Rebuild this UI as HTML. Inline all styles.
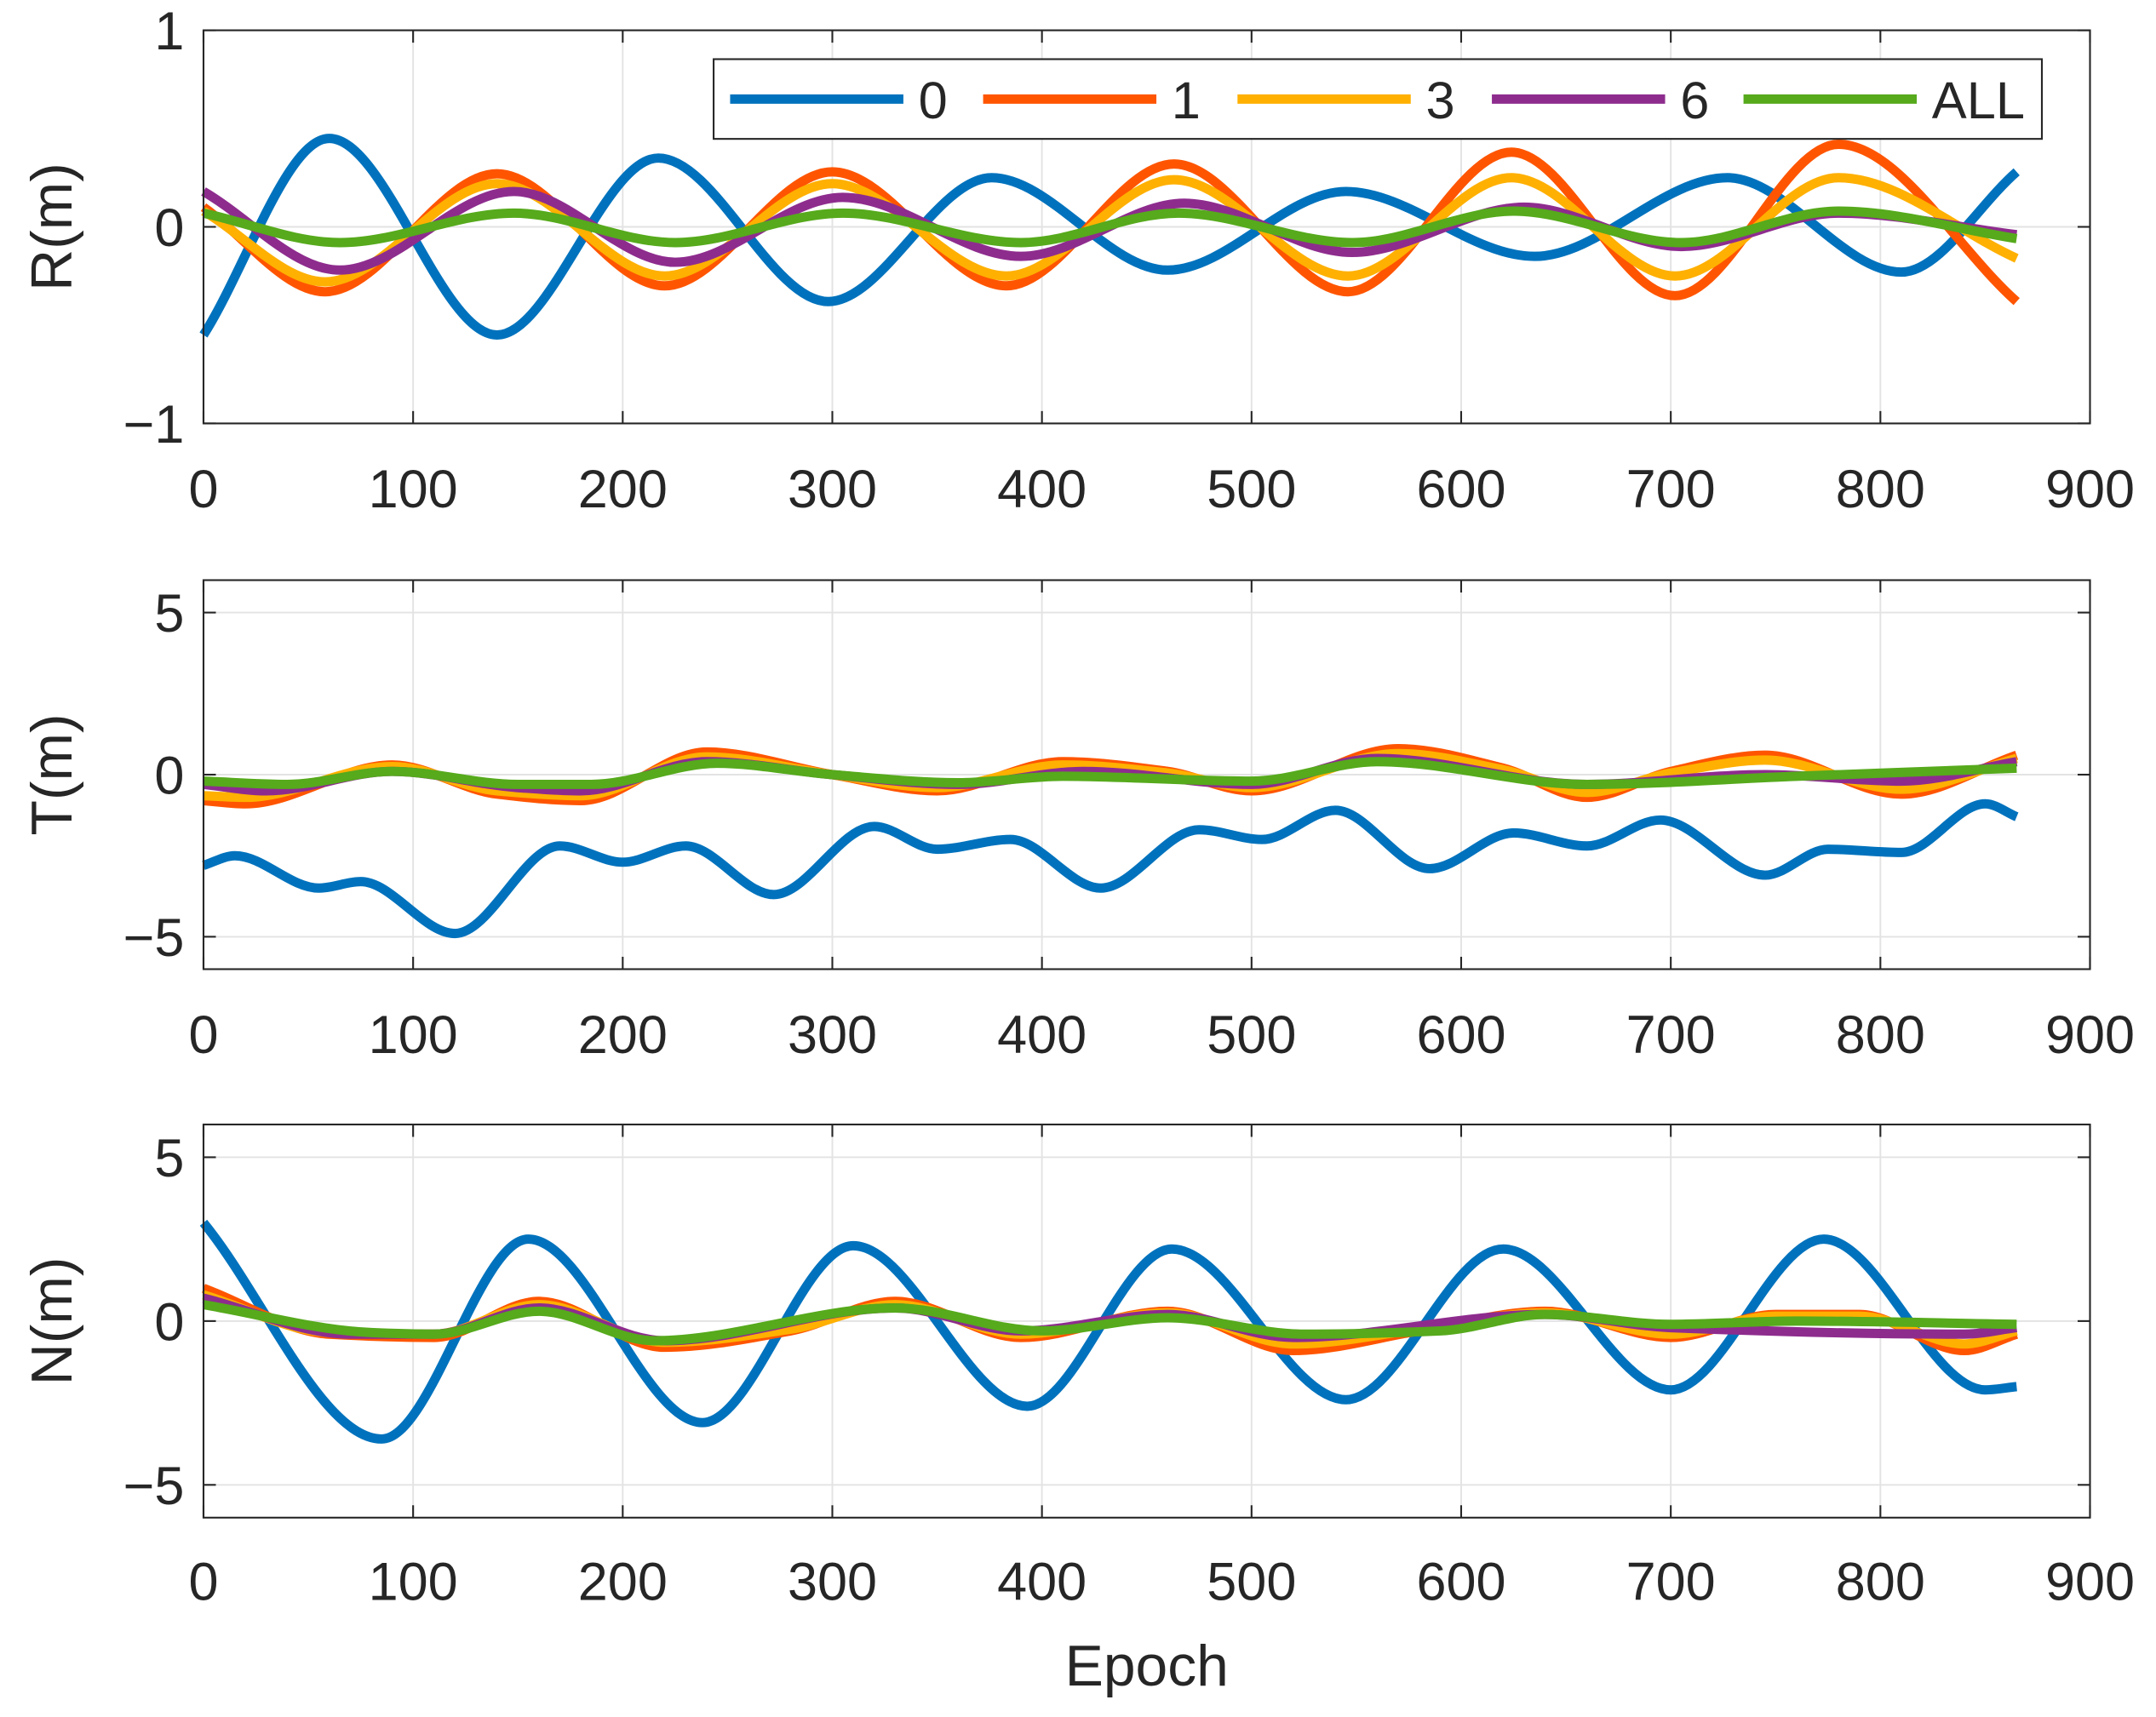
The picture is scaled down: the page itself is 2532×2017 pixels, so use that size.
<!DOCTYPE html>
<html><head><meta charset="utf-8">
<style>
html,body{margin:0;padding:0;background:#fff;}
svg{display:block;}
text{font-family:"Liberation Sans",Arial,sans-serif;fill:#262626;}
</style></head>
<body>
<svg id="chart" width="2532" height="2017" viewBox="0 0 1568 1249" xmlns="http://www.w3.org/2000/svg"></svg>
<script>
// ---- data ----
const seriesNames = ["0","1","3","6","ALL"];
const seriesColors = ["#0072BD","#FF5500","#FFB000","#8E2C8E","#56AA1C"];
const xTicks = [0,100,200,300,400,500,600,700,800,900];

// Panel R
const rTicks = [-1,0,1];
const rBlueEp = [0,60,140,217,298,376,460,545,635,727,810,865];
const rBlueVal = [-0.55,0.45,-0.55,0.35,-0.38,0.25,-0.22,0.18,-0.15,0.25,-0.23,0.28];
const rExtEp = [0,58,140,220,300,383,463,546,624,702,780,865];
const rOrangeVal = [0.10,-0.33,0.27,-0.30,0.28,-0.30,0.32,-0.33,0.38,-0.35,0.42,-0.38];
const rYellowVal = [0.08,-0.28,0.22,-0.25,0.22,-0.25,0.24,-0.25,0.25,-0.25,0.25,-0.16];
const rPurpleEp = [0,65,148,225,305,390,468,548,630,705,780,865];
const rPurpleVal = [0.18,-0.22,0.18,-0.18,0.15,-0.15,0.12,-0.13,0.10,-0.10,0.07,-0.04];
const rGreenEp = [0,65,148,225,305,390,465,548,625,705,780,865];
const rGreenVal = [0.07,-0.08,0.07,-0.08,0.07,-0.08,0.07,-0.08,0.08,-0.08,0.08,-0.06];

// Panel T
const tTicks = [-5,0,5];
const tBlueEp = [0,15,55,75,120,170,200,230,272,320,350,385,428,475,505,540,585,625,660,695,745,775,810,850,865];
const tBlueVal = [-2.8,-2.5,-3.5,-3.3,-4.9,-2.2,-2.7,-2.2,-3.7,-1.6,-2.3,-2.0,-3.5,-1.7,-2.0,-1.1,-2.9,-1.8,-2.2,-1.4,-3.1,-2.3,-2.4,-0.9,-1.3];
const tOrangeEp = [0,20,90,140,180,240,300,350,410,460,500,570,620,660,700,745,810,865];
const tOrangeVal = [-0.8,-0.9,0.3,-0.6,-0.8,0.7,0.0,-0.5,0.4,0.1,-0.5,0.8,0.2,-0.7,0.1,0.6,-0.6,0.6];
const tYellowVal = [-0.65,-0.7,0.25,-0.5,-0.65,0.55,0.0,-0.4,0.3,0.05,-0.4,0.65,0.15,-0.55,0.05,0.45,-0.45,0.5];
const tPurpleEp = [0,30,90,150,180,240,300,360,420,500,560,660,745,810,865];
const tPurpleVal = [-0.3,-0.5,0.1,-0.4,-0.5,0.4,0.0,-0.3,0.1,-0.3,0.5,-0.3,0.0,-0.2,0.4];
const tGreenEp = [0,40,90,150,185,245,300,360,410,500,560,660,760,865];
const tGreenVal = [-0.2,-0.3,0.1,-0.3,-0.3,0.35,0.0,-0.25,-0.05,-0.2,0.4,-0.3,-0.05,0.2];

// Panel N
const nTicks = [-5,0,5];
const nBlueEp = [0,85,155,238,310,393,462,545,620,700,773,850,865];
const nBlueVal = [3.0,-3.6,2.5,-3.1,2.3,-2.6,2.2,-2.4,2.2,-2.1,2.5,-2.1,-2.0];
const nOrangeEp = [0,60,110,160,220,280,330,390,460,520,580,640,700,750,790,840,865];
const nOrangeVal = [1.0,-0.4,-0.5,0.6,-0.8,-0.3,0.6,-0.5,0.3,-0.9,-0.3,0.3,-0.5,0.2,0.2,-0.9,-0.4];
const nYellowVal = [0.8,-0.35,-0.4,0.5,-0.65,-0.25,0.5,-0.4,0.25,-0.7,-0.25,0.25,-0.4,0.15,0.15,-0.7,-0.3];
const nPurpleEp = [0,70,110,160,220,330,390,460,520,640,700,840,865];
const nPurpleVal = [0.7,-0.4,-0.4,0.4,-0.6,0.4,-0.3,0.2,-0.5,0.2,-0.2,-0.4,-0.2];
const nGreenEp = [0,80,110,160,215,330,400,460,525,590,640,700,760,865];
const nGreenVal = [0.5,-0.35,-0.4,0.3,-0.6,0.4,-0.3,0.1,-0.4,-0.3,0.2,-0.1,0.0,-0.1];

// ---- layout ----
const NS = "http://www.w3.org/2000/svg";
const svg = document.getElementById('chart');
const X0 = 148, X1 = 1520;
function xs(v){ return X0 + (v/900)*(X1-X0); }

function el(tag, attrs, parent){
  const e = document.createElementNS(NS, tag);
  for (const k in attrs) e.setAttribute(k, attrs[k]);
  (parent||svg).appendChild(e);
  return e;
}

function monoPath(ex, ey, ys){
  const n = ex.length;
  const px = ex.map(xs), py = ey.map(ys);
  const d = [], m = new Array(n);
  for (let i=0;i<n-1;i++) d.push((py[i+1]-py[i])/(px[i+1]-px[i]));
  m[0]=d[0]; m[n-1]=d[n-2];
  for (let i=1;i<n-1;i++){
    if (d[i-1]*d[i] <= 0) m[i]=0;
    else { const w1=2*(px[i+1]-px[i])+(px[i]-px[i-1]), w2=(px[i+1]-px[i])+2*(px[i]-px[i-1]);
      m[i]=(w1+w2)/(w1/d[i-1]+w2/d[i]); }
  }
  let s = "M"+px[0].toFixed(2)+","+py[0].toFixed(2);
  for (let i=0;i<n-1;i++){
    const h = px[i+1]-px[i];
    s += " C"+(px[i]+h/3).toFixed(2)+","+(py[i]+m[i]*h/3).toFixed(2)+" "+
         (px[i+1]-h/3).toFixed(2)+","+(py[i+1]-m[i+1]*h/3).toFixed(2)+" "+
         px[i+1].toFixed(2)+","+py[i+1].toFixed(2);
  }
  return s;
}

function panel(name, top, bottom, ymin, ymax, yTicks, label, series, tickLabelY){
  const g = el('g', {});
  
  
  const ys = v => bottom - (v-ymin)/(ymax-ymin)*(bottom-top);
  xTicks.forEach(t => {
    if (t>0 && t<900){ const l = el('line',{x1:xs(t),x2:xs(t),y1:top,y2:bottom,stroke:'#e3e3e3','stroke-width':1.2},g);
        }
  });
  yTicks.forEach(t => {
    const l = el('line',{x1:X0,x2:X1,y1:ys(t),y2:ys(t),stroke:'#e3e3e3','stroke-width':1.2},g);
     
  });
  series.forEach((s,i) => {
    const p = el('path',{d:monoPath(s[0],s[1],ys),fill:'none',stroke:seriesColors[i],'stroke-width':6.8,'stroke-linejoin':'round'},g);
    
    
  });
  const box = el('rect',{x:X0,y:top,width:X1-X0,height:bottom-top,fill:'none',stroke:'#262626','stroke-width':1.3},g);
   
  xTicks.forEach(t => {
    el('line',{x1:xs(t),x2:xs(t),y1:bottom,y2:bottom-9,stroke:'#262626','stroke-width':1.3},g);
    el('line',{x1:xs(t),x2:xs(t),y1:top,y2:top+9,stroke:'#262626','stroke-width':1.3},g);
    const tx = el('text',{x:xs(t),y:tickLabelY,'font-size':39,'text-anchor':'middle'},g);
    tx.textContent = t;
     
  });
  yTicks.forEach(t => {
    el('line',{x1:X0,x2:X0+9,y1:ys(t),y2:ys(t),stroke:'#262626','stroke-width':1.3},g);
    el('line',{x1:X1,x2:X1-9,y1:ys(t),y2:ys(t),stroke:'#262626','stroke-width':1.3},g);
    const tx = el('text',{x:X0-14,y:ys(t)+14,'font-size':39,'text-anchor':'end'},g);
    tx.textContent = t<0 ? '\u2212'+Math.abs(t) : t;
     
  });
  const cy = (top+bottom)/2;
  const yl = el('text',{x:52,y:cy,'font-size':42,'text-anchor':'middle',transform:'rotate(-90 52 '+cy+')'},g);
  yl.textContent = label;
   
}

panel('r', 22, 308, -1, 1, rTicks, 'R(m)', [
  [rBlueEp,rBlueVal],[rExtEp,rOrangeVal],[rExtEp,rYellowVal],[rPurpleEp,rPurpleVal],[rGreenEp,rGreenVal]
], 369);
panel('t', 422, 705, -6, 6, tTicks, 'T(m)', [
  [tBlueEp,tBlueVal],[tOrangeEp,tOrangeVal],[tOrangeEp,tYellowVal],[tPurpleEp,tPurpleVal],[tGreenEp,tGreenVal]
], 766);
panel('n', 818, 1104, -6, 6, nTicks, 'N(m)', [
  [nBlueEp,nBlueVal],[nOrangeEp,nOrangeVal],[nOrangeEp,nYellowVal],[nPurpleEp,nPurpleVal],[nGreenEp,nGreenVal]
], 1164);

const xt = el('text',{x:834,y:1226,'font-size':42,'text-anchor':'middle'});
xt.textContent = 'Epoch';



const lg = el('g',{});


el('rect',{x:519,y:43,width:966,height:58,fill:'#fff',stroke:'#262626','stroke-width':1.3},lg);
const legX = [531,715,900,1085,1268];
const labX = [668,852,1037,1222,1405];
seriesNames.forEach((n,i) => {
  const e = el('g',{},lg);
  
  
  el('line',{x1:legX[i],x2:legX[i]+126,y1:72,y2:72,stroke:seriesColors[i],'stroke-width':6.8},e);
  const t = el('text',{x:labX[i],y:86,'font-size':38},e);
  t.textContent = n;
});
</script>
</body></html>
